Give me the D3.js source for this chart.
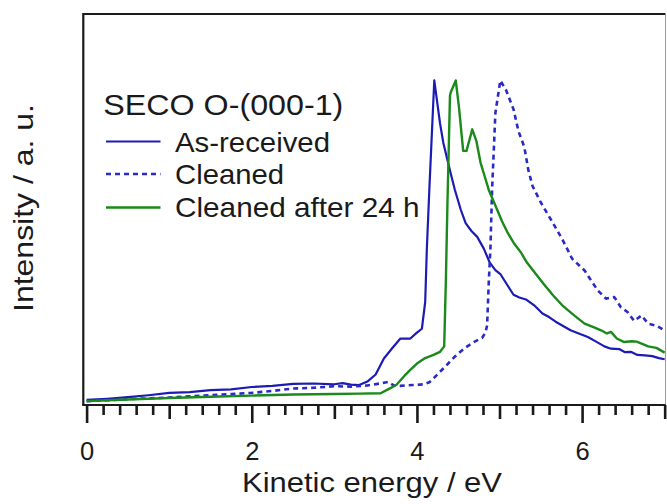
<!DOCTYPE html>
<html>
<head>
<meta charset="utf-8">
<script src="https://cdn.jsdelivr.net/npm/d3@7"></script>
<style>
  html, body { margin: 0; padding: 0; background: #fff; }
  svg { display: block; }
  text { font-family: "Liberation Sans", Arial, Helvetica, sans-serif; fill: #1a1a1a; }
</style>
</head>
<body>
<svg id="chart" width="667" height="504"></svg>
<script>
// Secondary-electron cut-off spectra, O-face (000-1), normalised intensity (a. u.)
const asReceived = [
  [0.00,1.3],[0.25,1.6],[0.50,2.0],[0.75,2.5],[1.00,3.1],[1.25,3.3],[1.50,3.8],[1.75,4.0],
  [2.00,4.6],[2.25,4.9],[2.50,5.4],[2.75,5.5],[3.00,5.3],[3.10,5.6],[3.20,5.2],[3.30,5.1],
  [3.40,6.0],[3.50,7.8],[3.60,11.9],[3.70,14.5],[3.80,17.0],[3.92,17.0],[4.00,18.5],[4.06,19.5],
  [4.10,26.3],[4.12,39.9],[4.15,55],[4.21,83],[4.28,72],[4.32,67],[4.40,60],[4.46,55],
  [4.53,50],[4.59,46.5],[4.66,44.5],[4.73,43.0],[4.81,40],[4.88,36.5],[4.95,34.5],[5.01,33.5],
  [5.10,30.5],[5.17,28.2],[5.24,27.5],[5.32,27.0],[5.42,25.5],[5.52,23.4],[5.60,22.5],[5.68,21.3],
  [5.77,20.2],[5.86,19.1],[5.96,18.3],[6.07,17.4],[6.17,16.2],[6.27,15.0],[6.35,14.4],[6.45,14.3],
  [6.52,13.5],[6.59,13.6],[6.67,12.8],[6.76,12.7],[6.85,12.5],[6.93,12.0],[7.00,11.7]
];

const cleaned = [
  [0.00,1.0],[0.25,1.2],[0.50,1.5],[0.75,1.7],[1.00,1.9],[1.25,2.2],[1.50,2.5],[1.75,2.8],
  [2.00,3.1],[2.25,3.6],[2.50,4.2],[2.75,4.4],[3.00,4.8],[3.20,4.7],[3.40,5.0],[3.55,5.5],
  [3.65,5.9],[3.72,5.0],[3.80,4.9],[3.95,5.1],[4.08,5.3],[4.15,5.8],[4.20,6.8],[4.28,8.5],
  [4.36,10.2],[4.45,12.2],[4.57,14.4],[4.68,16.0],[4.79,17.2],[4.83,18.5],[4.85,20.4],[4.87,31.4],
  [4.89,40],[4.91,55],[4.95,74.7],[5.01,83],[5.08,80.5],[5.17,75.6],[5.23,70],[5.30,66],
  [5.35,60],[5.40,56],[5.50,51.8],[5.62,47.5],[5.76,42.4],[5.88,37.4],[6.03,34.4],[6.12,31.5],
  [6.19,29.3],[6.29,27.2],[6.39,27.6],[6.47,25.0],[6.55,23.8],[6.63,21.5],[6.72,22.9],[6.80,20.8],
  [6.90,20.3],[7.00,19.1]
];

const cleaned24h = [
  [0.00,1.0],[0.25,1.2],[0.50,1.4],[1.00,1.8],[1.50,2.1],[2.00,2.4],[2.50,2.7],[3.00,2.8],
  [3.30,2.9],[3.56,3.0],[3.65,4.0],[3.75,5.1],[3.85,7.5],[3.92,9.0],[4.00,10.6],[4.10,12.0],
  [4.20,12.8],[4.28,13.6],[4.33,15.0],[4.35,31.4],[4.37,52],[4.40,79],[4.41,80],[4.47,83],
  [4.51,76],[4.56,65],[4.60,65],[4.67,70.5],[4.72,67.5],[4.77,62],[4.82,58.5],[4.87,55],
  [4.95,51],[5.03,47],[5.10,44],[5.17,41.5],[5.26,39],[5.33,36.5],[5.44,33.5],[5.54,30.8],
  [5.65,28],[5.76,25.5],[5.90,23],[6.03,20.8],[6.13,20.0],[6.23,19.1],[6.30,18.3],[6.35,18.7],
  [6.42,17.0],[6.51,16.1],[6.60,16.3],[6.66,16.2],[6.72,15.7],[6.80,15.0],[6.90,14.6],[7.00,13.4]
];

const seriesNames = ["As-received", "Cleaned", "Cleaned after 24 h"];
const legendTitle = "SECO O-(000-1)";
const majorTicks = [0, 2, 4, 6];
const xTitle = "Kinetic energy / eV";
const yTitle = "Intensity / a. u.";

const series = [
  { name: seriesNames[0], data: asReceived, color: "#1c1cb4", width: 2.2, dash: null },
  { name: seriesNames[1], data: cleaned,    color: "#2a2ac8", width: 2.6, dash: "5,4" },
  { name: seriesNames[2], data: cleaned24h, color: "#1a8a1a", width: 2.4, dash: null }
];

const svg = d3.select("#chart");
const plotLeft = 83.3, plotRight = 665.5, plotTop = 14, plotBottom = 405;

const x = d3.scaleLinear().domain([-0.04, 7.01]).range([plotLeft, plotRight]);
const y = d3.scaleLinear().domain([0, 100]).range([plotBottom, plotTop]);

// clip so the traces stay inside the frame
svg.append("clipPath").attr("id", "plotClip")
  .append("rect").attr("x", plotLeft).attr("y", plotTop)
  .attr("width", plotRight - plotLeft).attr("height", plotBottom - plotTop);

const line = d3.line().x(d => x(d[0])).y(d => y(d[1]));

const plot = svg.append("g").attr("clip-path", "url(#plotClip)");
series.forEach(s => {
  plot.append("path")
    .datum(s.data)
    .attr("d", line)
    .attr("fill", "none")
    .attr("stroke", s.color)
    .attr("stroke-width", s.width)
    .attr("stroke-linejoin", "round")
    .attr("stroke-dasharray", s.dash);
});

// frame: top, left and right edges
svg.append("path")
  .attr("d", `M${plotLeft},${plotBottom} V${plotTop} H${plotRight}`)
  .attr("fill", "none").attr("stroke", "#1a1a1a").attr("stroke-width", 2.2);
svg.append("line")
  .attr("x1", plotRight).attr("x2", plotRight).attr("y1", plotTop).attr("y2", plotBottom)
  .attr("stroke", "#9a9a9a").attr("stroke-width", 1);

// bottom axis: minor (0.2), medium (odd integers), major (even, labelled)
const minorVals = d3.range(0, 36).map(i => +(i * 0.2).toFixed(1)).filter(v => Math.abs(v - Math.round(v)) > 1e-6);
const mediumVals = [1, 3, 5, 7];

function tickLayer(vals, size, labels) {
  const ax = d3.axisBottom(x).tickValues(vals).tickSize(size).tickSizeOuter(0);
  if (labels) ax.tickPadding(19).tickFormat(d3.format("d"));
  else ax.tickFormat("");
  const g = svg.append("g").attr("transform", `translate(0,${plotBottom})`).call(ax);
  g.select(".domain").remove();
  g.selectAll(".tick line").attr("stroke", "#1a1a1a").attr("stroke-width", 2.6);
  g.selectAll(".tick text")
    .attr("font-size", 25.5)
    .attr("fill", "#1a1a1a")
    .style("font-family", '"Liberation Sans", Arial, sans-serif');
  return g;
}
tickLayer(minorVals, 10, false);
tickLayer(mediumVals, 14, false);
tickLayer(majorTicks, 18, true);

svg.append("line")
  .attr("x1", plotLeft - 1.1).attr("x2", plotRight).attr("y1", plotBottom).attr("y2", plotBottom)
  .attr("stroke", "#1a1a1a").attr("stroke-width", 2.2);

// axis titles
svg.append("text")
  .attr("x", 242).attr("y", 491.5)
  .attr("font-size", 28)
  .attr("textLength", 260).attr("lengthAdjust", "spacingAndGlyphs")
  .text(xTitle);

svg.append("text")
  .attr("transform", "translate(33,312) rotate(-90)")
  .attr("x", 0).attr("y", 0)
  .attr("font-size", 28)
  .attr("textLength", 208).attr("lengthAdjust", "spacingAndGlyphs")
  .text(yTitle);

// legend
const legend = svg.append("g");
legend.append("text")
  .attr("x", 103.3).attr("y", 115)
  .attr("font-size", 30)
  .attr("textLength", 240).attr("lengthAdjust", "spacingAndGlyphs")
  .text(legendTitle);

const legendRows = [
  { y: 151.7, lineY: 141.5, len: 155 },
  { y: 184.0, lineY: 174.0, len: 109 },
  { y: 216.7, lineY: 207.5, len: 244.6 }
];
series.forEach((s, i) => {
  const r = legendRows[i];
  legend.append("line")
    .attr("x1", 106).attr("x2", 160.5).attr("y1", r.lineY).attr("y2", r.lineY)
    .attr("stroke", s.color).attr("stroke-width", s.width)
    .attr("stroke-dasharray", s.dash);
  legend.append("text")
    .attr("x", 175).attr("y", r.y)
    .attr("font-size", 28)
    .attr("textLength", r.len).attr("lengthAdjust", "spacingAndGlyphs")
    .text(s.name);
});
</script>
</body>
</html>
